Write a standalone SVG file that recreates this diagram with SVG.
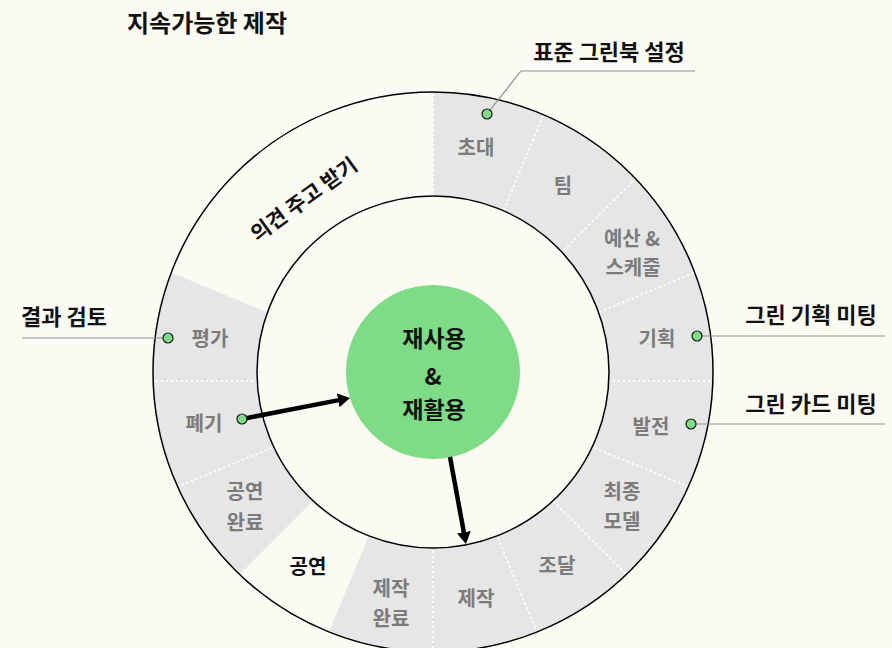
<svg xmlns="http://www.w3.org/2000/svg" width="892" height="648" viewBox="0 0 892 648">
<defs>
<style>
text{font-family:"Noto Sans CJK KR","Noto Sans",sans-serif;font-weight:700;text-anchor:middle;dominant-baseline:central}
.seg{fill:#e6e6e6}
.lbl{fill:#7b7b7b;font-size:20px}
.blk{fill:#111;font-size:22px}
.dot{fill:#7ddc85;stroke:#1a1a1a;stroke-width:1.2}
.div{stroke:#ffffff;stroke-width:2;stroke-dasharray:2 3;fill:none}
.lead{stroke:#8c8c8c;stroke-width:1.2;fill:none}
.ring{fill:none;stroke:#000;stroke-width:1.5}
.arr{stroke:#000;stroke-width:4.5;fill:none;marker-end:url(#ah)}
</style>
<clipPath id="annulus">
<path clip-rule="evenodd" d="M153 372a280 280 0 1 0 560 0a280 280 0 1 0-560 0ZM257 372a176 176 0 1 0 352 0a176 176 0 1 0-352 0Z"/>
</clipPath>
<marker id="ah" viewBox="0 0 12 14" refX="2" refY="7" markerWidth="12" markerHeight="14" markerUnits="userSpaceOnUse" orient="auto">
<path d="M0 0L12 7L0 14Z" fill="#000"/>
</marker>
</defs>
<rect width="892" height="648" fill="#fbfbf3"/>
<text x="207" y="21" style="font-size:24px;fill:#111">지속가능한 제작</text>

<g clip-path="url(#annulus)">
<g id="seg-invite"><path class="seg" d="M433 381L433 -19A400 400 0 0 1 586.07 11.45Z"/></g>
<g id="seg-team"><path class="seg" d="M433 381L586.07 11.45A400 400 0 0 1 715.84 98.16Z"/></g>
<g id="seg-budget"><path class="seg" d="M433 381L715.84 98.16A400 400 0 0 1 802.55 227.93Z"/></g>
<g id="seg-plan"><path class="seg" d="M433 381L802.55 227.93A400 400 0 0 1 833 381Z"/></g>
<g id="seg-develop"><path class="seg" d="M433 381L833 381A400 400 0 0 1 802.55 534.07Z"/></g>
<g id="seg-final"><path class="seg" d="M433 381L802.55 534.07A400 400 0 0 1 715.84 663.84Z"/></g>
<g id="seg-procure"><path class="seg" d="M433 381L715.84 663.84A400 400 0 0 1 586.07 750.55Z"/></g>
<g id="seg-make"><path class="seg" d="M433 381L586.07 750.55A400 400 0 0 1 433 781Z"/></g>
<g id="seg-makedone"><path class="seg" d="M433 381L433 781A400 400 0 0 1 279.93 750.55Z"/></g>
<g id="seg-showdone"><path class="seg" d="M433 381L150.16 663.84A400 400 0 0 1 63.45 534.07Z"/></g>
<g id="seg-dispose"><path class="seg" d="M433 381L63.45 534.07A400 400 0 0 1 33 381Z"/></g>
<g id="seg-eval"><path class="seg" d="M433 381L33 381A400 400 0 0 1 63.45 227.93Z"/></g>
<g id="dividers">
<path class="div" d="M433 381L433 -19M433 381L586.07 11.45M433 381L715.84 98.16M433 381L802.55 227.93M433 381L833 381M433 381L802.55 534.07M433 381L715.84 663.84M433 381L586.07 750.55M433 381L433 781M433 381L63.45 534.07M433 381L33 381"/>
</g>
</g>

<circle class="ring" cx="433" cy="372" r="280"/>
<circle class="ring" cx="433" cy="372" r="176"/>

<g id="labels">
<text class="lbl" x="476" y="146">초대</text>
<text class="lbl" x="563" y="184">팀</text>
<text class="lbl" x="632" y="237">예산 &amp;</text>
<text class="lbl" x="633" y="266">스케줄</text>
<text class="lbl" x="657" y="337">기획</text>
<text class="lbl" x="651" y="425">발전</text>
<text class="lbl" x="622" y="490">최종</text>
<text class="lbl" x="622" y="520">모델</text>
<text class="lbl" x="557" y="564">조달</text>
<text class="lbl" x="476" y="597">제작</text>
<text class="lbl" x="391" y="587">제작</text>
<text class="lbl" x="391" y="617">완료</text>
<text class="blk" x="308" y="565" style="font-size:20px">공연</text>
<text class="lbl" x="245" y="490">공연</text>
<text class="lbl" x="245" y="521">완료</text>
<text class="lbl" x="204" y="422">폐기</text>
<text class="lbl" x="210" y="337">평가</text>
<text class="blk" x="303" y="198" style="font-size:21px" transform="rotate(-36 303 198)">의견 주고 받기</text>
</g>

<g id="center">
<circle cx="433" cy="372" r="87" fill="#7ddc85"/>
<text class="blk" x="434" y="337" style="font-size:23px">재사용</text>
<text class="blk" x="433" y="375" style="font-size:23px">&amp;</text>
<text class="blk" x="434" y="408" style="font-size:23px">재활용</text>
</g>

<g id="connectors">
<path class="lead" d="M487 114L521 71L695 71"/>
<path class="lead" d="M697 336L885 336"/>
<path class="lead" d="M691 424L885 424"/>
<path class="lead" d="M22 338L168 338"/>
<path class="arr" d="M242 419L340.2 399.9"/>
<path class="arr" d="M450 457L464.2 534.2"/>
</g>

<g id="callouts">
<text class="blk" x="609" y="50">표준 그린북 설정</text>
<text class="blk" x="811" y="313">그린 기획 미팅</text>
<text class="blk" x="811" y="402">그린 카드 미팅</text>
<text class="blk" x="64" y="315">결과 검토</text>
</g>

<g id="dots">
<circle class="dot" cx="487" cy="114" r="5"/>
<circle class="dot" cx="697" cy="336" r="5"/>
<circle class="dot" cx="691" cy="424" r="5"/>
<circle class="dot" cx="168" cy="338" r="5"/>
<circle class="dot" cx="242" cy="419" r="5"/>
</g>
</svg>
